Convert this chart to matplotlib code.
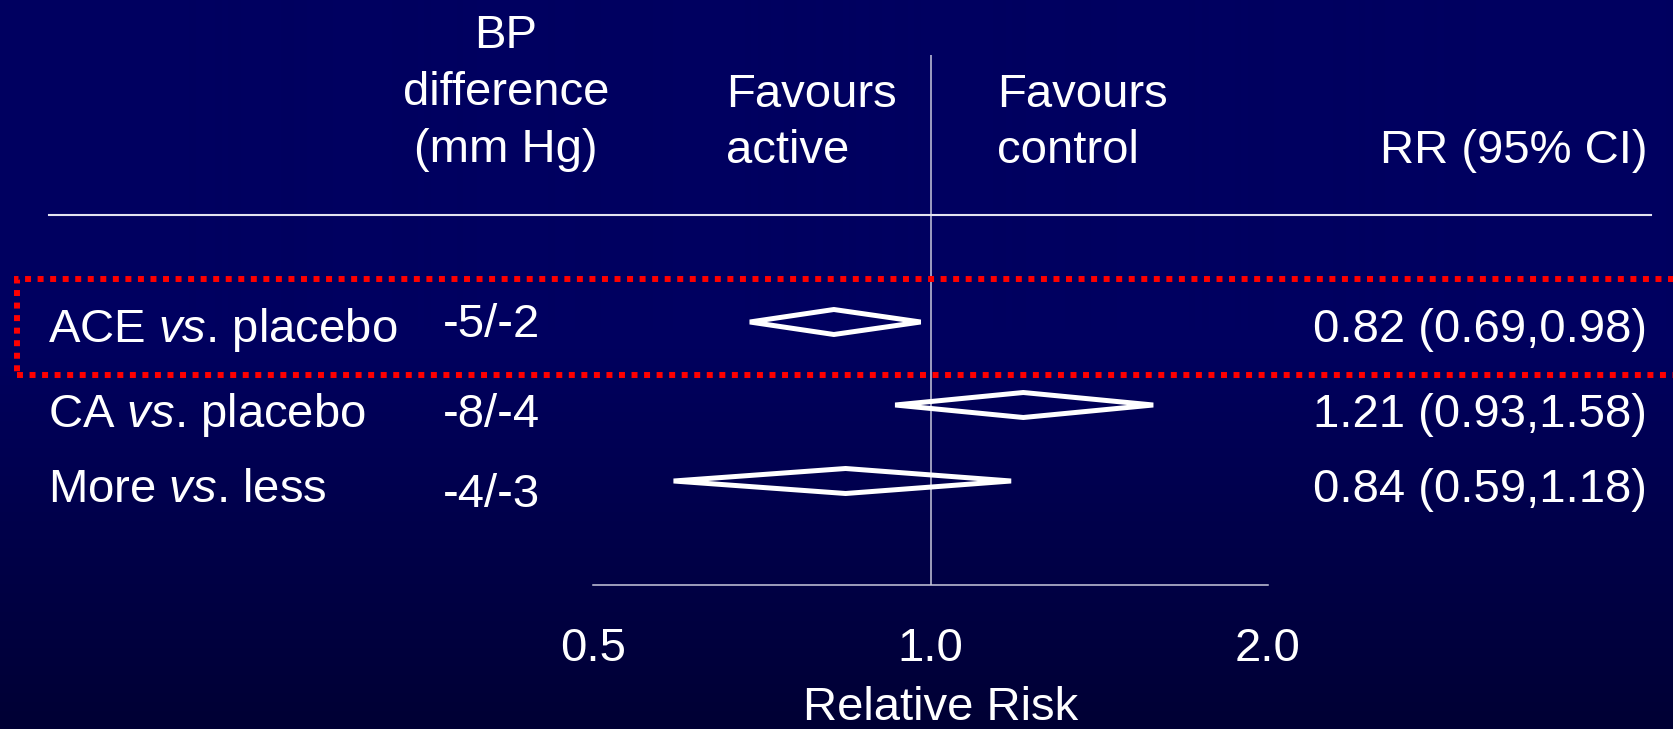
import numpy as np
import matplotlib
matplotlib.use("Agg")
import matplotlib.pyplot as plt
from matplotlib.patches import Polygon, Rectangle
from matplotlib.lines import Line2D

# ---- data ----
comparisons = ["ACE $\\mathit{vs}$. placebo", "CA $\\mathit{vs}$. placebo", "More $\\mathit{vs}$. less"]
bp_difference = ["-5/-2", "-8/-4", "-4/-3"]
rr = [0.82, 1.21, 0.84]
ci_low = [0.69, 0.93, 0.59]
ci_high = [0.98, 1.58, 1.18]
tick_values = [0.5, 1.0, 2.0]
tick_labels = ["0.5", "1.0", "2.0"]

# ---- style ----
plt.rcParams["font.family"] = ["Liberation Sans", "DejaVu Sans"]
plt.rcParams["mathtext.fontset"] = "custom"
plt.rcParams["mathtext.rm"] = "Liberation Sans"
plt.rcParams["mathtext.it"] = "Liberation Sans:italic"
FS = 34
TXT = "#ffffff"
LINE = "#c8c8dc"

W, H = 1673, 729
DPI = 100
fig = plt.figure(figsize=(W / DPI, H / DPI), dpi=DPI)


def fx(x):
    return x / W


def fy(y):
    return 1 - y / H


# background gradient
bg = fig.add_axes([0, 0, 1, 1], zorder=-5)
rows = np.arange(H)
blue = np.where(rows < 330, 96, 96 - (rows - 330) / (H - 330) * 44)
img = np.zeros((H, 1, 3))
img[:, 0, 2] = blue / 255.0
bg.imshow(img, aspect="auto", extent=[0, 1, 0, 1], origin="upper")
bg.set_axis_off()

# forest plot axes (log scale relative risk)
x0, x1 = 593, 1268
y_top, y_bot = 55, 585
ax = fig.add_axes([fx(x0), fy(y_bot), (x1 - x0) / W, (y_bot - y_top) / H])
ax.set_facecolor("none")
ax.set_xscale("log", base=2)
ax.set_xlim(0.5, 2.0)
ax.set_ylim(y_bot, y_top)
for s in ("top", "left", "right"):
    ax.spines[s].set_visible(False)
ax.spines["bottom"].set_color(LINE)
ax.spines["bottom"].set_linewidth(1.1)
ax.set_yticks([])
ax.set_xticks(tick_values)
ax.set_xticklabels(tick_labels)
ax.xaxis.set_minor_locator(matplotlib.ticker.NullLocator())
ax.tick_params(axis="x", length=0, pad=30.5, labelsize=FS, labelcolor=TXT)
ax.set_xlabel("Relative Risk", fontsize=FS, color=TXT)
ax.xaxis.label.set_va("baseline")
ax.xaxis.set_label_coords((941 - x0) / (x1 - x0), -(720 - y_bot) / (y_bot - y_top))

ax.axvline(1.0, color=LINE, lw=1.1, zorder=1)

row_y = [322, 405, 481]
half_h = 12.5
for y, m, lo, hi in zip(row_y, rr, ci_low, ci_high):
    verts = [(lo, y), (m, y - half_h), (hi, y), (m, y + half_h)]
    ax.add_patch(Polygon(verts, closed=True, fill=False, edgecolor="white",
                         lw=3.6, joinstyle="bevel", zorder=3))

# header rule
fig.add_artist(Line2D([fx(49), fx(1651)], [fy(215), fy(215)],
                      color="#e4e4f0", lw=1.5, transform=fig.transFigure))

# highlight box around first row
fig.add_artist(Rectangle((fx(17), fy(375)), fx(1700) - fx(17), (375 - 279) / H,
                         transform=fig.transFigure, fill=False, edgecolor="#ff0000",
                         lw=4.3, linestyle=(0, (1, 1.1)), capstyle="butt",
                         clip_on=False, zorder=10))


def put(x, y, s, ha="left"):
    fig.text(fx(x), fy(y), s, ha=ha, va="baseline", fontsize=FS, color=TXT)


# column headers
put(506, 48, "BP", "center")
put(506, 105, "difference", "center")
put(506, 162, "(mm Hg)", "center")
put(726, 107, "Favours")
put(726, 163, "active")
put(997, 107, "Favours")
put(997, 163, "control")
put(1647, 163, "RR (95% CI)", "right")

# rows
label_base = [342, 427, 502]
bp_base = [337, 427, 507]
for i in range(len(comparisons)):
    put(48, label_base[i], comparisons[i])
    put(443, bp_base[i], bp_difference[i])
    put(1647, label_base[i], f"{rr[i]:.2f} ({ci_low[i]:.2f},{ci_high[i]:.2f})", "right")

fig.savefig("out.png", dpi=DPI)
